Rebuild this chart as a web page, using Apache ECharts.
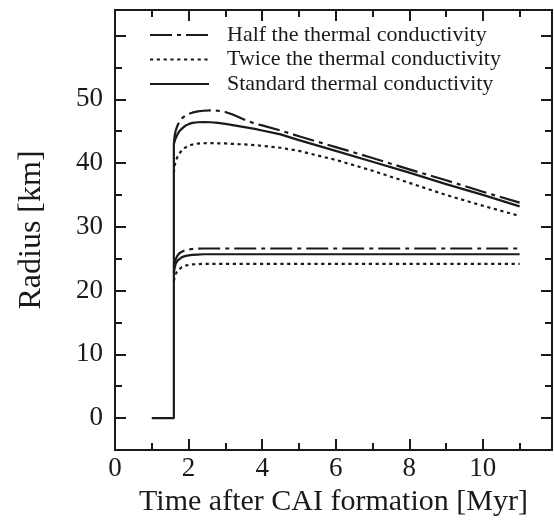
<!DOCTYPE html>
<html>
<head>
<meta charset="utf-8">
<script src="https://cdn.jsdelivr.net/npm/echarts@6/dist/echarts.min.js"></script>
<style>html,body{margin:0;padding:0;background:#fff}#c{width:554px;height:525px}</style>
</head>
<body>
<div id="c"></div>
<script>
// ---- data ----
const seriesNames = ['Half the thermal conductivity', 'Twice the thermal conductivity', 'Standard thermal conductivity'];
const stepX = [1.0, 1.6, 1.6];
const stepY = [0, 0, 43.0];
const upperX = [1.6, 1.62, 1.65, 1.7, 1.75, 1.82, 1.9, 2.0, 2.1, 2.25, 2.4, 2.6, 2.8, 3.0, 3.2, 3.4, 3.6, 3.8, 4.0, 4.5, 5, 6, 7, 8, 9, 10, 11];
const halfUpper = [43.0, 44.2, 45.1, 45.9, 46.5, 47.0, 47.4, 47.7, 47.9, 48.1, 48.2, 48.25, 48.2, 48.0, 47.6, 47.1, 46.6, 46.2, 45.9, 45.1, 44.2, 42.5, 40.8, 39.0, 37.3, 35.5, 33.8];
const twiceUpper = [38.5, 39.5, 40.3, 41.0, 41.5, 42.0, 42.4, 42.7, 42.9, 43.05, 43.1, 43.12, 43.1, 43.08, 43.0, 42.95, 42.9, 42.8, 42.7, 42.4, 41.9, 40.5, 38.8, 36.9, 35.0, 33.3, 31.7];
const stdUpper = [43.0, 43.4, 43.9, 44.5, 45.0, 45.4, 45.8, 46.1, 46.3, 46.4, 46.42, 46.4, 46.3, 46.15, 45.95, 45.75, 45.55, 45.35, 45.1, 44.5, 43.6, 41.9, 40.2, 38.5, 36.7, 35.0, 33.2];
const lowerX = [1.6, 1.62, 1.65, 1.7, 1.75, 1.82, 1.9, 2.0, 2.1, 2.25, 2.4, 2.8, 11];
const halfLower = [23.5, 24.2, 24.9, 25.5, 25.85, 26.1, 26.3, 26.45, 26.52, 26.57, 26.6, 26.6, 26.6];
const twiceLower = [21.5, 22.0, 22.6, 23.1, 23.4, 23.7, 23.9, 24.02, 24.1, 24.15, 24.2, 24.2, 24.2];
const stdLower = [22.8, 23.5, 24.2, 24.7, 25.0, 25.25, 25.4, 25.52, 25.6, 25.65, 25.7, 25.7, 25.7];
const xTickLabels = [0, 2, 4, 6, 8, 10];
const xMinorTicks = [1, 3, 5, 7, 9, 11];
const yTicks = [0, 10, 20, 30, 40, 50, 60];
const yTickLabels = [0, 10, 20, 30, 40, 50];
const yMinorTicks = [-5, 5, 15, 25, 35, 45, 55];

// ---- chart ----
const INK = '#1a1a1a';
const FONT = 'Liberation Serif';
const zip = (xs, ys) => xs.map((x, i) => [x, ys[i]]);
const styles = [
  { type: [22, 5, 4, 5], width: 2.2 },
  { type: [3.2, 3.6], width: 2.2 },
  { type: 'solid', width: 2.2 }
];
function mk(name, data, ls) {
  return {
    type: 'line', name, data, symbol: 'none', showSymbol: false, smooth: false,
    lineStyle: Object.assign({ color: INK, cap: 'butt', join: 'round' }, ls),
    itemStyle: { color: INK }, xAxisIndex: 0, yAxisIndex: 0, animation: false, z: 3
  };
}
const xRange = { min: 0, max: 11.88 };
const yRange = { min: -5, max: 64 };
function xAx(pos, ticks, len, labels) {
  return {
    type: 'value', position: pos, ...xRange, interval: 1,
    axisLine: { show: true, onZero: false, lineStyle: { color: INK, width: 2 } },
    axisTick: { show: true, inside: true, length: len, customValues: ticks, lineStyle: { color: INK, width: 2 } },
    axisLabel: labels ? { show: true, customValues: labels, margin: 5, color: INK, fontFamily: FONT, fontSize: 27 } : { show: false },
    splitLine: { show: false }
  };
}
function yAx(pos, ticks, len, labels) {
  return {
    type: 'value', position: pos, ...yRange, interval: 5,
    axisLine: { show: true, onZero: false, lineStyle: { color: INK, width: 2 } },
    axisTick: { show: true, inside: true, length: len, customValues: ticks, lineStyle: { color: INK, width: 2 } },
    axisLabel: labels ? { show: true, customValues: labels, margin: 12, color: INK, fontFamily: FONT, fontSize: 27 } : { show: false },
    splitLine: { show: false }
  };
}
const xAxes = [
  Object.assign(xAx('bottom', xTickLabels, 11, xTickLabels), {
    name: 'Time after CAI formation [Myr]', nameLocation: 'middle', nameGap: 31,
    nameTextStyle: { color: INK, fontFamily: FONT, fontSize: 30 }
  }),
  xAx('bottom', xMinorTicks, 7, null),
  xAx('top', xTickLabels, 11, null),
  xAx('top', xMinorTicks, 7, null)
];
const yAxes = [
  Object.assign(yAx('left', yTicks, 11, yTickLabels), {
    name: 'Radius [km]', nameLocation: 'middle', nameGap: 67,
    nameTextStyle: { color: INK, fontFamily: FONT, fontSize: 32 }
  }),
  yAx('left', yMinorTicks, 7, null),
  yAx('right', yTicks, 11, null),
  yAx('right', yMinorTicks, 7, null)
];
const chart = echarts.init(document.getElementById('c'), null, { renderer: 'canvas' });
chart.setOption({
  animation: false,
  backgroundColor: '#fff',
  grid: { left: 115, right: 2, top: 10, bottom: 75, containLabel: false },
  legend: {
    data: seriesNames, orient: 'vertical', left: 144, top: 19,
    itemWidth: 59, itemHeight: 14, itemGap: 2.5,
    itemStyle: { opacity: 0 },
    textStyle: { color: INK, fontFamily: FONT, fontSize: 22, lineHeight: 22, padding: [0, 0, 0, 13] }
  },
  xAxis: xAxes,
  yAxis: yAxes,
  series: [
    mk(seriesNames[2], zip(stepX, stepY), styles[2]),
    mk(seriesNames[0], zip(upperX, halfUpper), styles[0]),
    mk(seriesNames[0], zip(lowerX, halfLower), styles[0]),
    mk(seriesNames[1], zip(upperX, twiceUpper), styles[1]),
    mk(seriesNames[1], zip(lowerX, twiceLower), styles[1]),
    mk(seriesNames[2], zip(upperX, stdUpper), styles[2]),
    mk(seriesNames[2], zip(lowerX, stdLower), styles[2])
  ]
});
</script>
</body>
</html>
